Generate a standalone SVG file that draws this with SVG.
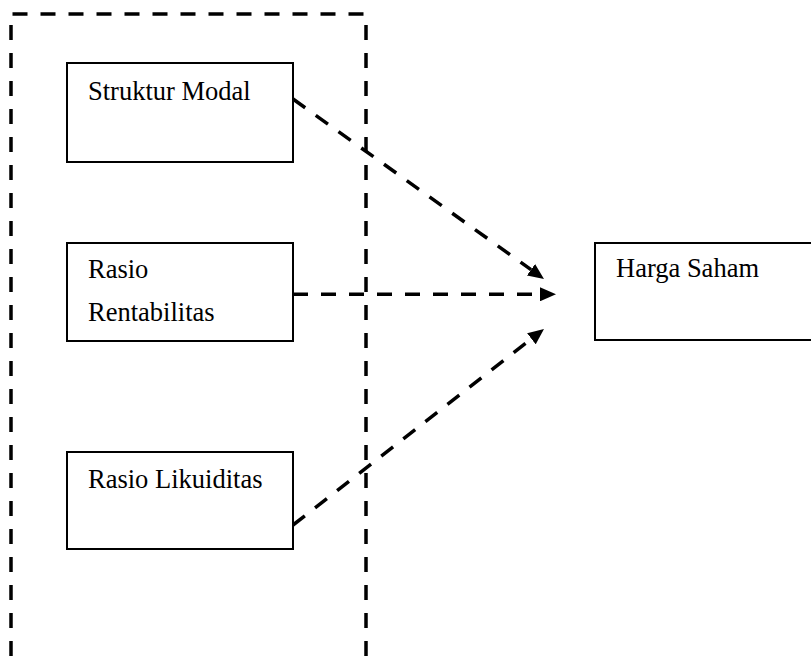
<svg xmlns="http://www.w3.org/2000/svg" width="811" height="664" viewBox="0 0 811 664">
<style>
.box{fill:#fff;stroke:#000;stroke-width:2}
.lbl{font-family:"Liberation Serif","Times New Roman",serif;font-size:26.5px;fill:#000}
.frame{fill:none;stroke:#000;stroke-width:3.5;stroke-dasharray:15 13}
.conn{fill:none;stroke:#000;stroke-width:3.5;stroke-dasharray:15 13}
</style>
<defs>
<marker id="ah" markerUnits="userSpaceOnUse" markerWidth="16" markerHeight="14" refX="0" refY="7" orient="auto">
<path d="M0,0 L16,7 L0,14 z" fill="#000"/>
</marker>
</defs>
<rect width="811" height="664" fill="#fff"/>
<g id="frame">
<line class="frame" x1="12.5" y1="14" x2="366" y2="14"/>
<line class="frame" x1="11" y1="25" x2="11" y2="664"/>
<line class="frame" x1="366" y1="25" x2="366" y2="664"/>
</g>
<g id="struktur-modal">
<rect class="box" x="67" y="63" width="226" height="99"/>
<text class="lbl" x="88" y="100">Struktur Modal</text>
</g>
<g id="rasio-rentabilitas">
<rect class="box" x="67" y="243" width="226" height="98"/>
<text class="lbl" x="88" y="278">Rasio</text>
<text class="lbl" x="88" y="321">Rentabilitas</text>
</g>
<g id="rasio-likuiditas">
<rect class="box" x="67" y="452" width="226" height="97"/>
<text class="lbl" x="88" y="488">Rasio Likuiditas</text>
</g>
<g id="harga-saham">
<rect class="box" x="595" y="243" width="230" height="97"/>
<text class="lbl" x="616" y="277">Harga Saham</text>
</g>
<g id="connectors">
<line class="conn" x1="293" y1="99" x2="531" y2="269.7" marker-end="url(#ah)"/>
<line class="conn" x1="293" y1="294.3" x2="540" y2="294.3" marker-end="url(#ah)"/>
<line class="conn" x1="293" y1="525" x2="531.4" y2="338.8" marker-end="url(#ah)"/>
</g>
</svg>
